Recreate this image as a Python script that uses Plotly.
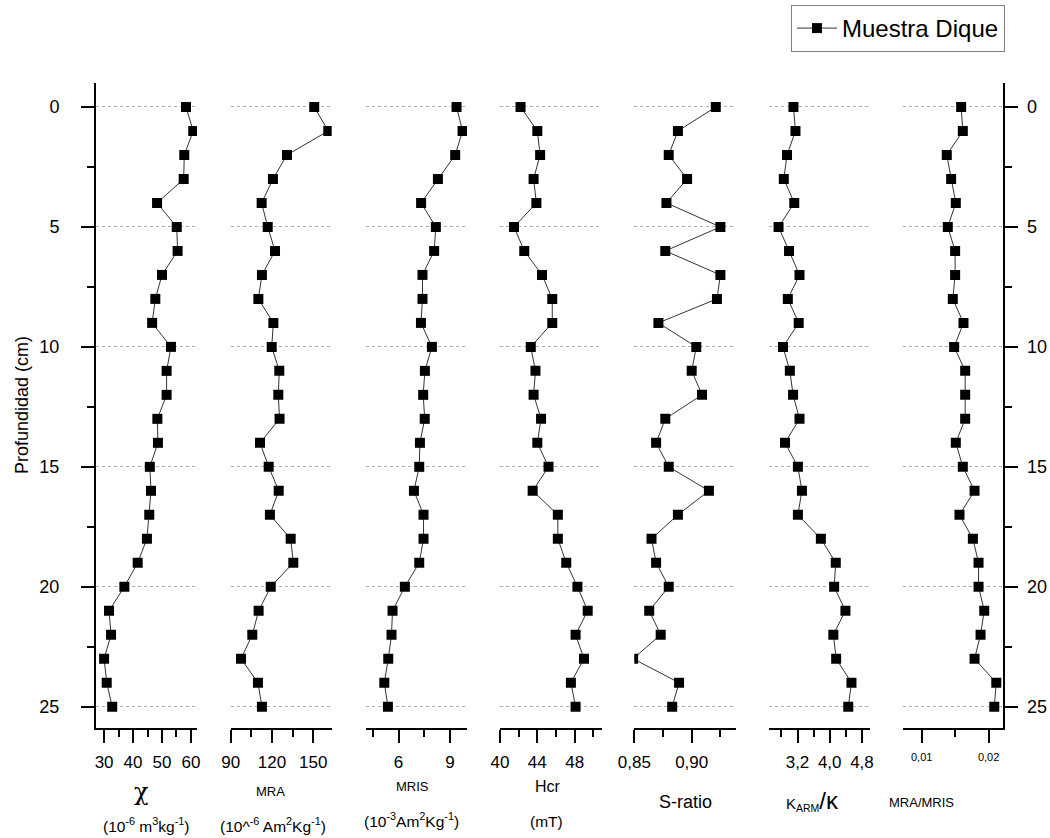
import plotly.graph_objects as go

# ---------------- data ----------------
depth = list(range(26))
chi = [58.3, 60.8, 57.7, 57.5, 48.3, 55.1, 55.4, 50.0, 47.7, 46.6, 53.1, 51.6, 51.6,
       48.4, 48.6, 45.8, 46.2, 45.6, 44.8, 41.6, 37.0, 31.7, 32.4, 30.0, 30.9, 32.8]
mra = [150.7, 160.9, 130.9, 120.7, 112.5, 116.9, 122.2, 112.7, 110.1, 121.0, 119.8, 125.3, 124.6,
       125.5, 111.3, 117.6, 124.9, 118.5, 133.6, 135.5, 119.1, 110.3, 105.7, 97.5, 109.8, 112.7]
mris = [9.39, 9.74, 9.31, 8.30, 7.32, 8.18, 8.08, 7.40, 7.40, 7.31, 7.95, 7.54, 7.44,
        7.53, 7.25, 7.21, 6.90, 7.46, 7.46, 7.21, 6.37, 5.65, 5.59, 5.40, 5.17, 5.38]
hcr = [42.2, 44.0, 44.3, 43.6, 43.9, 41.5, 42.6, 44.5, 45.6, 45.6, 43.3, 43.8, 43.6,
       44.4, 44.0, 45.2, 43.5, 46.2, 46.2, 47.1, 48.3, 49.4, 48.1, 49.0, 47.6, 48.1]
s_ratio = [0.921, 0.888, 0.880, 0.896, 0.878, 0.925, 0.877, 0.925, 0.922, 0.871, 0.904, 0.900, 0.909,
           0.877, 0.869, 0.880, 0.915, 0.888, 0.865, 0.869, 0.880, 0.863, 0.873, 0.849, 0.889, 0.883]
karm_k = [3.10, 3.15, 2.94, 2.86, 3.12, 2.73, 2.99, 3.25, 2.96, 3.23, 2.84, 3.01, 3.09,
          3.25, 2.89, 3.21, 3.31, 3.21, 3.78, 4.15, 4.11, 4.39, 4.09, 4.16, 4.54, 4.46]
mra_mris = [0.0159, 0.01615, 0.01375, 0.0144, 0.0151, 0.0139, 0.0150, 0.0150, 0.01465, 0.01625,
            0.01485, 0.0165, 0.0165, 0.0165, 0.0151, 0.01615, 0.0179, 0.01565, 0.01765, 0.0185,
            0.0185, 0.01935, 0.0188, 0.0179, 0.02115, 0.02085]

chi_ticks = [30, 40, 50, 60]
chi_labels = ["30", "40", "50", "60"]
mra_ticks = [90, 120, 150]
mra_labels = ["90", "120", "150"]
mris_ticks = [6, 9]
mris_labels = ["6", "9"]
hcr_ticks = [40, 44, 48]
hcr_labels = ["40", "44", "48"]
s_ticks = [0.85, 0.90]
s_labels = ["0,85", "0,90"]
k_ticks = [3.2, 4.0, 4.8]
k_labels = ["3,2", "4,0", "4,8"]
r_ticks = [0.01, 0.02]
r_labels = ["0,01", "0,02"]
depth_ticks = [0, 5, 10, 15, 20, 25]
depth_labels = ["0", "5", "10", "15", "20", "25"]

series_name = "Muestra Dique"

# ---------------- layout helpers ----------------
W, H = 1050, 838
FONT = "Arial, Liberation Sans, sans-serif"
SERIF = "DejaVu Serif, Liberation Serif, serif"

def px_x(p):
    return p / W

def px_y(p):
    return 1 - p / H

panels = [
    # values, range, tickvals, ticktext, minor tick0, minor dtick, tickfont size, x0, x1
    (chi, [27.2, 62.1], chi_ticks, chi_labels, 25, 5, 17, 96, 197),
    (mra, [90, 163.4], mra_ticks, mra_labels, 90, 15, 17, 230.7, 331.7),
    (mris, [4.1, 10.0], mris_ticks, mris_labels, 4.5, 1.5, 17, 366, 467),
    (hcr, [40, 50.9], hcr_ticks, hcr_labels, 40, 2, 17, 500, 601.7),
    (s_ratio, [0.85, 0.9386], s_ticks, s_labels, 0.85, 0.025, 17, 634.3, 736),
    (karm_k, [2.5, 5.0], k_ticks, k_labels, 2.4, 0.4, 17, 769.3, 870),
    (mra_mris, [0.00725, 0.0222], r_ticks, r_labels, 0.005, 0.005, 11, 903.3, 1003.3),
]

ydom = [px_y(728.3), px_y(83)]
yrange = [25.9, -1.0]

fig = go.Figure()
layout = dict(
    template="none",
    width=W, height=H,
    margin=dict(l=0, r=0, t=0, b=0, pad=0, autoexpand=False),
    paper_bgcolor="white", plot_bgcolor="white",
    font=dict(family=FONT, color="black"),
    showlegend=True,
)

n = len(panels)
for i, (vals, rng, tv, tt, m0, mdt, fs, x0, x1) in enumerate(panels):
    k = i + 1
    xa = "x" if k == 1 else f"x{k}"
    ya = "y" if k == 1 else f"y{k}"
    fig.add_trace(go.Scatter(
        x=vals, y=depth, xaxis=xa, yaxis=ya,
        mode="lines+markers",
        name=series_name, showlegend=(k == 1),
        line=dict(color="#333333", width=1),
        marker=dict(symbol="square", size=10, color="black"),
    ))
    layout[f"xaxis{k if k > 1 else ''}"] = dict(
        domain=[px_x(x0), px_x(x1)], anchor=ya, range=rng, automargin=False,
        tickmode="array", tickvals=tv, ticktext=tt,
        ticks="outside", ticklen=13, tickwidth=2, tickcolor="black",
        minor=dict(tick0=m0, dtick=mdt, ticks="outside", ticklen=7, tickwidth=2, tickcolor="black",
                   showgrid=False),
        showline=True, linecolor="black", linewidth=2,
        showgrid=False, zeroline=False,
        tickfont=dict(size=fs, family=FONT),
        ticklabelstandoff=4,
        fixedrange=True,
    )
    ycfg = dict(
        domain=ydom, anchor=xa, range=yrange, automargin=False,
        tickmode="array", tickvals=depth_ticks, ticktext=depth_labels,
        showgrid=True, gridcolor="#b0b0b0", griddash="dot", gridwidth=1,
        zeroline=False, fixedrange=True,
    )
    if k == 1:
        ycfg.update(showline=True, linecolor="black", linewidth=2,
                    ticks="outside", ticklen=13, tickwidth=2, tickcolor="black",
                    minor=dict(dtick=2.5, tick0=0, ticks="outside", ticklen=7, tickwidth=2,
                               tickcolor="black", showgrid=False),
                    showticklabels=True, tickfont=dict(size=18, family=FONT),
                    ticklabelstandoff=18)
    elif k == n:
        ycfg.update(side="right", showline=True, linecolor="black", linewidth=2,
                    ticks="outside", ticklen=13, tickwidth=2, tickcolor="black",
                    minor=dict(dtick=2.5, tick0=0, ticks="outside", ticklen=7, tickwidth=2,
                               tickcolor="black", showgrid=False),
                    showticklabels=True, tickfont=dict(size=18, family=FONT),
                    ticklabelstandoff=5)
    else:
        ycfg.update(showline=False, ticks="", showticklabels=False)
    layout[f"yaxis{k if k > 1 else ''}"] = ycfg

layout["legend"] = dict(
    x=px_x(1005), y=px_y(5), xanchor="right", yanchor="top",
    bordercolor="#808080", borderwidth=1, bgcolor="white",
    font=dict(size=24, family=FONT), itemwidth=40,
)

def ann(x, y, text, size, family=FONT):
    return dict(x=px_x(x), y=px_y(y), xref="paper", yref="paper", text=text,
                showarrow=False, font=dict(size=size, family=family, color="black"),
                xanchor="center", yanchor="middle")

annotations = [
    ann(141, 792, "χ", 24, SERIF),
    ann(146, 825, "(10<sup>-6</sup> m<sup>3</sup>kg<sup>-1</sup>)", 15.5),
    ann(270, 791, "MRA", 13),
    ann(273, 825, "(10^<sup>-6</sup> Am<sup>2</sup>Kg<sup>-1</sup>)", 15.5),
    ann(412, 786, "MRIS", 13),
    ann(411, 820, "(10<sup>-3</sup>Am<sup>2</sup>Kg<sup>-1</sup>)", 15.5),
    ann(548, 786, "Hcr", 16),
    ann(546, 821, "(mT)", 15.5),
    ann(685, 802, "S-ratio", 18),
    ann(812, 800, "K<sub>ARM</sub><span style='font-size:24px'>/κ</span>", 15),
    ann(922, 802, "MRA/MRIS", 13),
]
ytitle = dict(x=px_x(22), y=px_y(405), xref="paper", yref="paper", text="Profundidad (cm)",
              showarrow=False, textangle=-90, font=dict(size=18, family=FONT, color="black"),
              xanchor="center", yanchor="middle")
annotations.append(ytitle)
layout["annotations"] = annotations

fig.update_layout(**layout)
fig.write_html("out.html",
               config={"displayModeBar": False},
               post_script="document.body.style.margin='0';document.body.style.padding='0';")
